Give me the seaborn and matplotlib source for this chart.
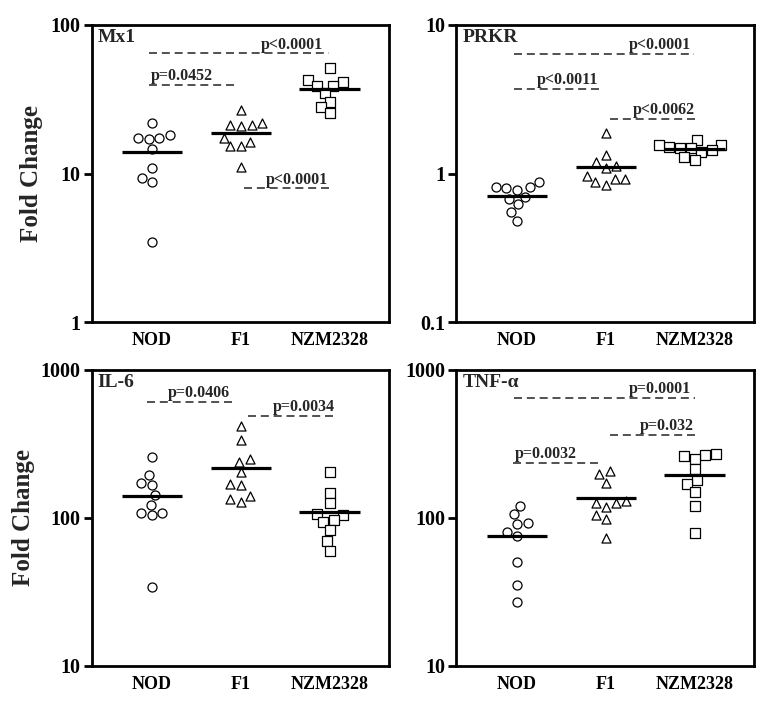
import numpy as np
import pandas as pd
import seaborn as sns
import matplotlib.pyplot as plt
from matplotlib.ticker import FixedLocator, FuncFormatter, NullLocator

sns.set_style('white')
plt.rcParams['font.family'] = ['Liberation Serif', 'DejaVu Serif']
plt.rcParams['font.weight'] = 'bold'

groups = ['NOD', 'F1', 'NZM2328']
markers = ['o', '^', 's']

# fold change values
mx1_nod = [22.0, 17.3, 17.0, 18.2, 17.3, 14.6, 11.0, 9.3, 8.8, 3.45]
mx1_f1 = [26.8, 21.2, 20.9, 22.0, 21.2, 17.5, 15.3, 15.3, 16.4, 11.1]
mx1_nzm = [51.1, 42.7, 41.6, 38.9, 38.9, 35.1, 30.5, 28.2, 25.7]

prkr_nod = [0.88, 0.81, 0.82, 0.80, 0.78, 0.68, 0.70, 0.625, 0.55, 0.48]
prkr_f1 = [1.87, 1.34, 1.13, 1.19, 1.10, 0.92, 0.97, 0.92, 0.88, 0.84]
prkr_nzm = [1.68, 1.55, 1.52, 1.50, 1.45, 1.48, 1.41, 1.30, 1.24, 1.55]

il6_nod = [260, 196, 172, 168, 142, 122, 108, 104, 108, 34.3]
il6_f1 = [419, 334, 251, 239, 204, 169, 166, 140, 129, 134]
il6_nzm = [206, 148, 126, 105, 107, 97.5, 94, 82.6, 70.3, 60.2]

tnf_nod = [121, 106, 92, 91, 81, 75.7, 50.8, 35.4, 26.9]
tnf_f1 = [207, 197, 173, 131, 126, 127, 119, 105, 98.5, 73]
tnf_nzm = [269, 265, 262, 252, 214, 180, 169, 150, 120, 79.6]

# significance bars: (start, end, level, label, text right edge)
mx1_notes = [(-0.03, 1.99, 64.4, 'p<0.0001', 1.93),
             (-0.03, 0.96, 39.5, 'p=0.0452', 0.69),
             (1.04, 2.03, 7.97, 'p<0.0001', 1.98)]
prkr_notes = [(-0.03, 1.99, 6.35, 'p<0.0001', 1.96),
              (-0.03, 0.95, 3.71, 'p<0.0011', 0.92),
              (1.05, 2.02, 2.32, 'p<0.0062', 2.0)]
il6_notes = [(-0.06, 0.9, 612, 'p=0.0406', 0.88),
             (1.08, 2.07, 490, 'p=0.0034', 2.06)]
tnf_notes = [(-0.03, 2.0, 648, 'p=0.0001', 1.96),
             (1.05, 2.03, 362, 'p=0.032', 1.99),
             (-0.04, 0.92, 236, 'p=0.0032', 0.67)]

panels = [
    ('Mx1', [mx1_nod, mx1_f1, mx1_nzm], (1, 100), mx1_notes),
    ('PRKR', [prkr_nod, prkr_f1, prkr_nzm], (0.1, 10), prkr_notes),
    ('IL-6', [il6_nod, il6_f1, il6_nzm], (10, 1000), il6_notes),
    ('TNF-α', [tnf_nod, tnf_f1, tnf_nzm], (10, 1000), tnf_notes),
]

fig = plt.figure(figsize=(7.69, 7.04), dpi=100)
rects = [(0.119, 0.542, 0.387, 0.4225), (0.5936, 0.542, 0.387, 0.4225),
         (0.119, 0.054, 0.387, 0.4205), (0.5936, 0.054, 0.387, 0.4205)]

for i, (name, vals, ylim, notes) in enumerate(panels):
    ax = fig.add_axes(rects[i])
    df = pd.DataFrame({'group': np.repeat(groups, [len(v) for v in vals]),
                       'value': np.concatenate(vals)})
    ax.set_yscale('log')
    for g, m in zip(groups, markers):
        sns.swarmplot(data=df[df['group'] == g], x='group', y='value', order=groups,
                      marker=m, size=6.5, color='white', edgecolor='black',
                      linewidth=0.9, ax=ax, zorder=3)
    means = df.groupby('group')['value'].mean().reindex(groups)
    pos = np.arange(len(groups))
    ax.hlines(means.values, pos - 0.34, pos + 0.34, color='black', lw=2.3, zorder=4)

    for x0, x1, y, label, xr in notes:
        ax.plot([x0, x1], [y, y], color='#333333', lw=1.2, ls=(0, (4.8, 2.9)), zorder=2)
        ax.annotate(label, xy=(xr, y), xytext=(0, 3.5), textcoords='offset points',
                    ha='right', va='baseline', fontsize=11.5, fontweight='bold')

    ax.text(0.02, 0.985, name, transform=ax.transAxes, ha='left', va='top',
            fontsize=14, fontweight='bold')

    ax.set_ylim(ylim)
    ax.set_xlim(-0.68, 2.67)
    decades = [ylim[0], ylim[0] * 10, ylim[1]]
    ax.yaxis.set_major_locator(FixedLocator(decades))
    ax.yaxis.set_major_formatter(FuncFormatter(lambda v, p: f'{v:g}'))
    ax.yaxis.set_minor_locator(NullLocator())
    ax.tick_params(axis='y', direction='out', length=6, width=2, labelsize=14.5,
                   pad=2, left=True, colors='black')
    ax.tick_params(axis='x', length=0, labelsize=13, pad=7, colors='black')
    for lab in ax.get_xticklabels() + ax.get_yticklabels():
        lab.set_fontweight('bold')
    for sp in ax.spines.values():
        sp.set_visible(True)
        sp.set_color('black')
        sp.set_linewidth(2.0)
    ax.set_xlabel('')
    if i % 2 == 0:
        ax.set_ylabel('Fold Change', fontsize=18, fontweight='bold')
        ax.yaxis.set_label_coords(-0.163 if i == 0 else -0.19, 0.5)
    else:
        ax.set_ylabel('')

fig.savefig('out.png', dpi=100)
